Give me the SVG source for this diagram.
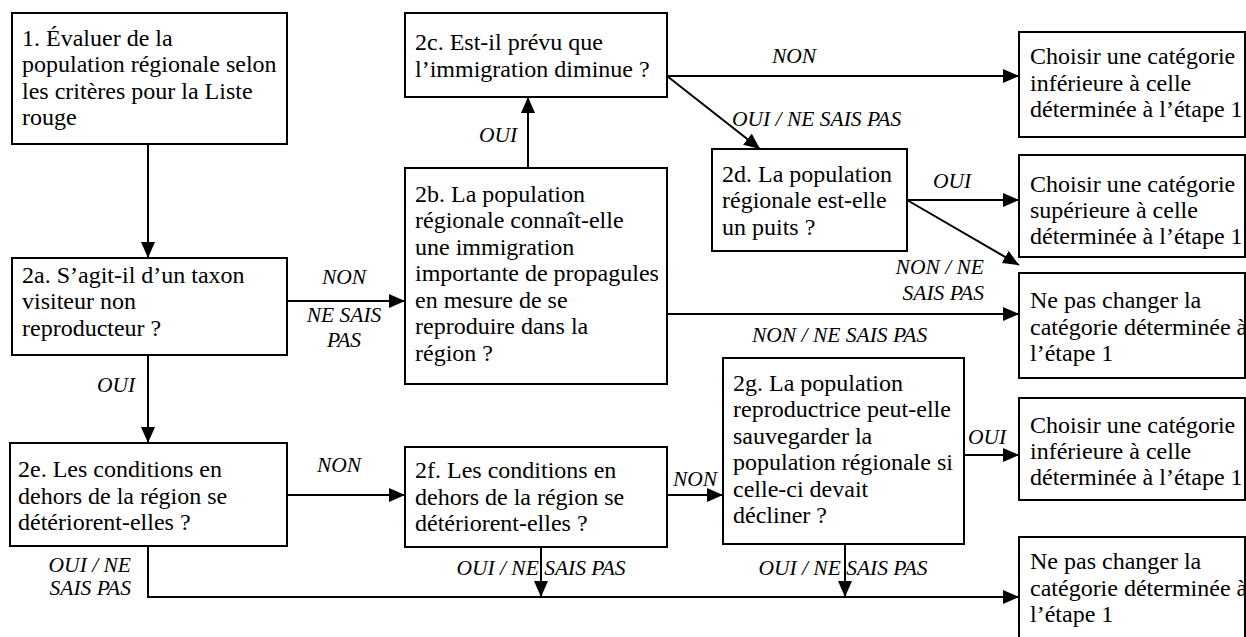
<svg xmlns="http://www.w3.org/2000/svg" width="1246" height="637" viewBox="0 0 1246 637">
<style>
.box{fill:#fff;stroke:#000;stroke-width:2}
.t{font-family:"Liberation Serif","Times New Roman",serif;font-size:24px;fill:#000}
.l{font-family:"Liberation Serif","Times New Roman",serif;font-size:21.5px;font-style:italic;fill:#000}
.c{fill:none;stroke:#000;stroke-width:2}
</style>
<defs>
<marker id="ah" markerUnits="userSpaceOnUse" markerWidth="16" markerHeight="14" refX="16" refY="7" orient="auto">
<path d="M0,0 L16,7 L0,14 z" fill="#000"/>
</marker>
</defs>
<rect width="1246" height="637" fill="#fff"/>
<g id="connectors">
<line class="c" x1="148" y1="144" x2="148" y2="258" marker-end="url(#ah)"/>
<line class="c" x1="287" y1="301" x2="405" y2="301" marker-end="url(#ah)"/>
<line class="c" x1="148" y1="355" x2="148" y2="443" marker-end="url(#ah)"/>
<line class="c" x1="528" y1="168" x2="528" y2="97" marker-end="url(#ah)"/>
<line class="c" x1="667" y1="76" x2="1019" y2="76" marker-end="url(#ah)"/>
<line class="c" x1="667" y1="76" x2="760" y2="149" marker-end="url(#ah)"/>
<line class="c" x1="907" y1="200" x2="1019" y2="200" marker-end="url(#ah)"/>
<line class="c" x1="907" y1="200" x2="1019" y2="265" marker-end="url(#ah)"/>
<line class="c" x1="667" y1="314" x2="1019" y2="314" marker-end="url(#ah)"/>
<line class="c" x1="287" y1="495" x2="405" y2="495" marker-end="url(#ah)"/>
<line class="c" x1="667" y1="495" x2="723" y2="495" marker-end="url(#ah)"/>
<line class="c" x1="964" y1="455" x2="1019" y2="455" marker-end="url(#ah)"/>
<path class="c" d="M148,546 L148,597 L1019,597" marker-end="url(#ah)"/>
<line class="c" x1="541" y1="547" x2="541" y2="597" marker-end="url(#ah)"/>
<line class="c" x1="845" y1="544" x2="845" y2="597" marker-end="url(#ah)"/>
<text class="l" x="794" y="63" text-anchor="middle">NON</text>
<text class="l" x="732" y="126">OUI / NE SAIS PAS</text>
<text class="l" x="498" y="142" text-anchor="middle">OUI</text>
<text class="l" x="933" y="188">OUI</text>
<text class="l" x="984" y="274" text-anchor="end">NON / NE</text>
<text class="l" x="984" y="300" text-anchor="end">SAIS PAS</text>
<text class="l" x="752" y="342">NON / NE SAIS PAS</text>
<text class="l" x="344" y="284" text-anchor="middle">NON</text>
<text class="l" x="344" y="322" text-anchor="middle">NE SAIS</text>
<text class="l" x="344" y="347" text-anchor="middle">PAS</text>
<text class="l" x="116" y="392" text-anchor="middle">OUI</text>
<text class="l" x="339" y="472" text-anchor="middle">NON</text>
<text class="l" x="131" y="572" text-anchor="end">OUI / NE</text>
<text class="l" x="131" y="595" text-anchor="end">SAIS PAS</text>
<text class="l" x="695" y="486" text-anchor="middle">NON</text>
<text class="l" x="541" y="575" text-anchor="middle">OUI / NE SAIS PAS</text>
<text class="l" x="968" y="444">OUI</text>
<text class="l" x="843" y="575" text-anchor="middle">OUI / NE SAIS PAS</text>
</g>
<g id="n1">
<rect class="box" x="12" y="13" width="275" height="131"/>
<text class="t" x="22" y="46">1. Évaluer de la</text>
<text class="t" x="22" y="72">population régionale selon</text>
<text class="t" x="22" y="99">les critères pour la Liste</text>
<text class="t" x="22" y="125">rouge</text>
</g>
<g id="n2a">
<rect class="box" x="12" y="258" width="275" height="97"/>
<text class="t" x="22" y="283">2a. S’agit-il d’un taxon</text>
<text class="t" x="22" y="309">visiteur non</text>
<text class="t" x="22" y="336">reproducteur ?</text>
</g>
<g id="n2b">
<rect class="box" x="405" y="168" width="262" height="216"/>
<text class="t" x="415" y="202">2b. La population</text>
<text class="t" x="415" y="228">régionale connaît-elle</text>
<text class="t" x="415" y="255">une immigration</text>
<text class="t" x="415" y="281">importante de propagules</text>
<text class="t" x="415" y="308">en mesure de se</text>
<text class="t" x="415" y="334">reproduire dans la</text>
<text class="t" x="415" y="361">région ?</text>
</g>
<g id="n2c">
<rect class="box" x="405" y="13" width="262" height="84"/>
<text class="t" x="415" y="50">2c. Est-il prévu que</text>
<text class="t" x="415" y="77">l’immigration diminue ?</text>
</g>
<g id="n2d">
<rect class="box" x="712" y="149" width="195" height="102"/>
<text class="t" x="722" y="182">2d. La population</text>
<text class="t" x="722" y="208">régionale est-elle</text>
<text class="t" x="722" y="235">un puits ?</text>
</g>
<g id="n2e">
<rect class="box" x="10" y="443" width="277" height="103"/>
<text class="t" x="18" y="477">2e. Les conditions en</text>
<text class="t" x="18" y="504">dehors de la région se</text>
<text class="t" x="18" y="530">détériorent-elles ?</text>
</g>
<g id="n2f">
<rect class="box" x="405" y="447" width="262" height="100"/>
<text class="t" x="415" y="478">2f. Les conditions en</text>
<text class="t" x="415" y="505">dehors de la région se</text>
<text class="t" x="415" y="531">détériorent-elles ?</text>
</g>
<g id="n2g">
<rect class="box" x="723" y="358" width="241" height="186"/>
<text class="t" x="733" y="391">2g. La population</text>
<text class="t" x="733" y="417">reproductrice peut-elle</text>
<text class="t" x="733" y="444">sauvegarder la</text>
<text class="t" x="733" y="470">population régionale si</text>
<text class="t" x="733" y="497">celle-ci devait</text>
<text class="t" x="733" y="523">décliner ?</text>
</g>
<g id="r1">
<rect class="box" x="1019" y="32" width="226" height="105"/>
<text class="t" x="1030" y="64">Choisir une catégorie</text>
<text class="t" x="1030" y="91">inférieure à celle</text>
<text class="t" x="1030" y="117">déterminée à l’étape 1</text>
</g>
<g id="r2">
<rect class="box" x="1019" y="155" width="226" height="102"/>
<text class="t" x="1030" y="192">Choisir une catégorie</text>
<text class="t" x="1030" y="218">supérieure à celle</text>
<text class="t" x="1030" y="244">déterminée à l’étape 1</text>
</g>
<g id="r3">
<rect class="box" x="1019" y="273" width="226" height="105"/>
<text class="t" x="1030" y="308">Ne pas changer la</text>
<text class="t" x="1030" y="335">catégorie déterminée à</text>
<text class="t" x="1030" y="361">l’étape 1</text>
</g>
<g id="r4">
<rect class="box" x="1019" y="398" width="226" height="102"/>
<text class="t" x="1030" y="433">Choisir une catégorie</text>
<text class="t" x="1030" y="459">inférieure à celle</text>
<text class="t" x="1030" y="485">déterminée à l’étape 1</text>
</g>
<g id="r5">
<rect class="box" x="1019" y="537" width="226" height="110"/>
<text class="t" x="1030" y="569">Ne pas changer la</text>
<text class="t" x="1030" y="596">catégorie déterminée à</text>
<text class="t" x="1030" y="622">l’étape 1</text>
</g>
</svg>
